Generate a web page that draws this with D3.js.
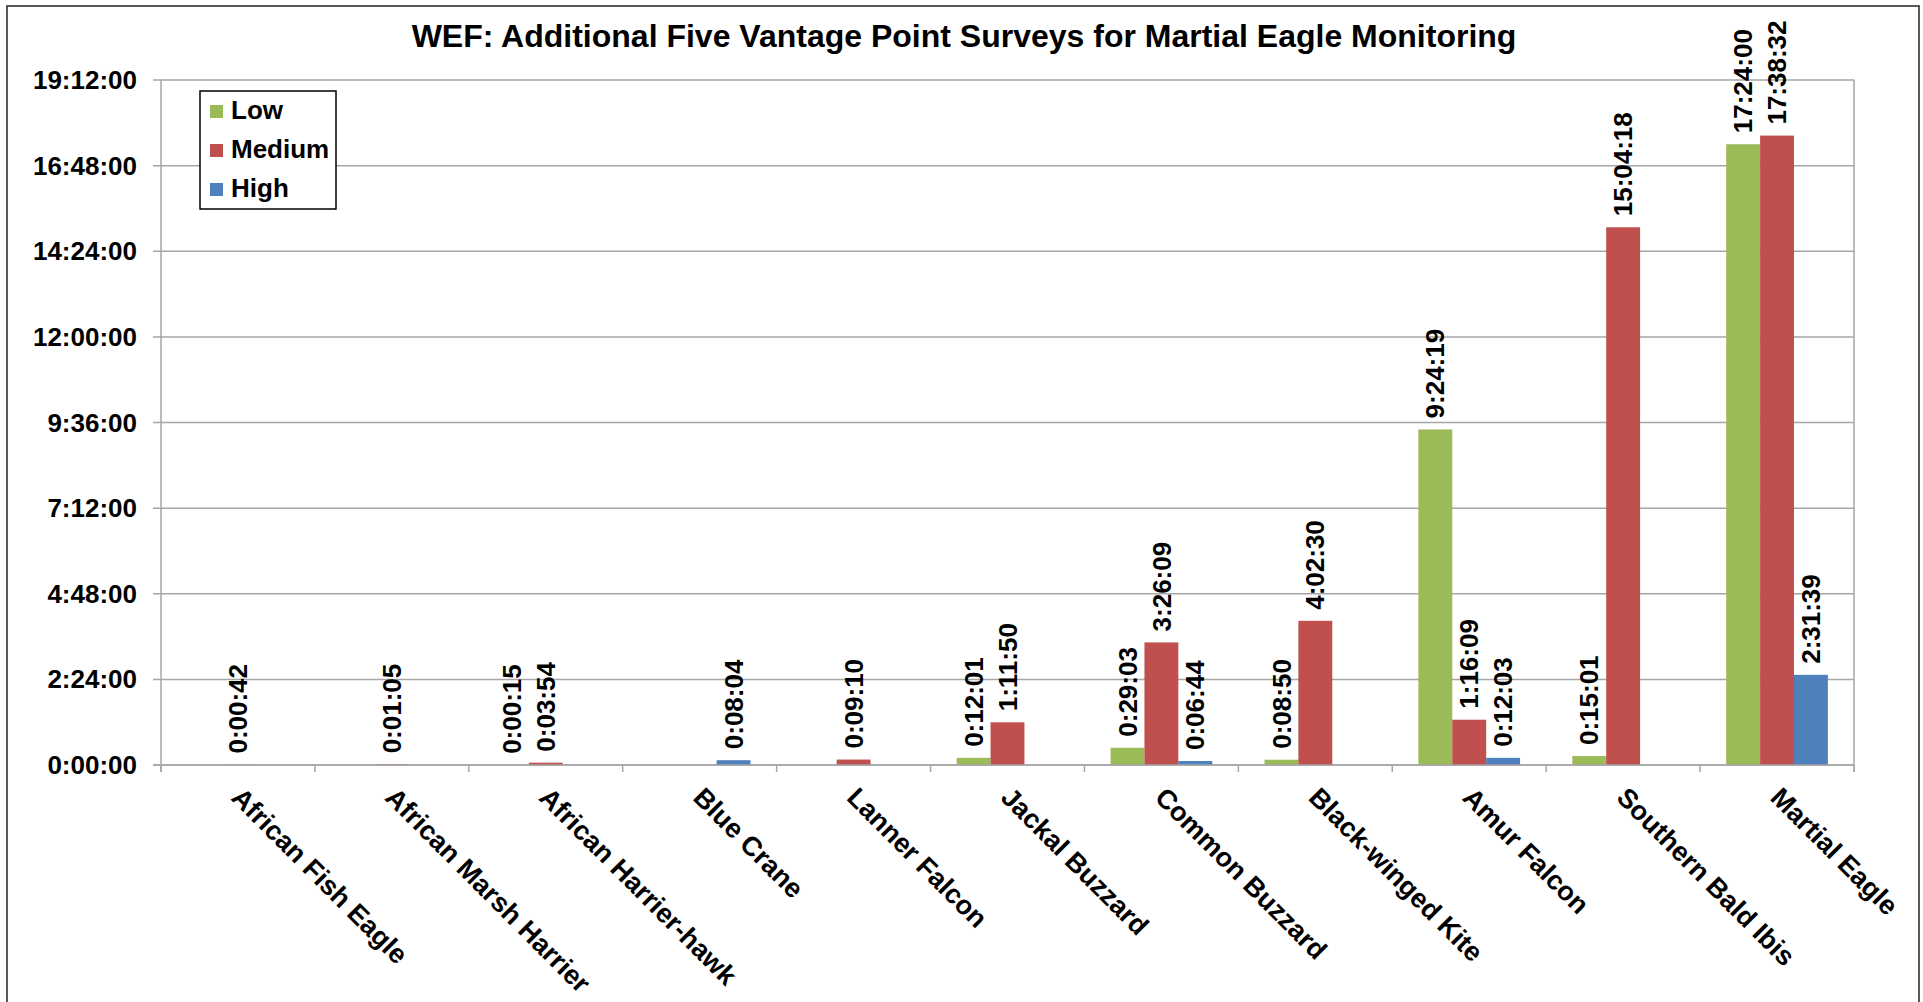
<!DOCTYPE html>
<html>
<head>
<meta charset="utf-8">
<script src="https://cdn.jsdelivr.net/npm/d3@7"></script>
<style>
  html, body { margin: 0; padding: 0; background: #fff; }
  svg { display: block; }
  text { font-family: "Liberation Sans", Arial, sans-serif; font-weight: bold; fill: #000; }
</style>
</head>
<body>
<svg id="chart" width="1923" height="1002"></svg>
<script>
const title = "WEF: Additional Five Vantage Point Surveys for Martial Eagle Monitoring";
const categories = ["African Fish Eagle", "African Marsh Harrier", "African Harrier-hawk", "Blue Crane",
  "Lanner Falcon", "Jackal Buzzard", "Common Buzzard", "Black-winged Kite", "Amur Falcon",
  "Southern Bald Ibis", "Martial Eagle"];
const seriesNames = ["Low", "Medium", "High"];
const lowValues    = [null, null, "0:00:15", null, null, "0:12:01", "0:29:03", "0:08:50", "9:24:19", "0:15:01", "17:24:00"];
const mediumValues = ["0:00:42", "0:01:05", "0:03:54", null, "0:09:10", "1:11:50", "3:26:09", "4:02:30", "1:16:09", "15:04:18", "17:38:32"];
const highValues   = [null, null, null, "0:08:04", null, null, "0:06:44", null, "0:12:03", null, "2:31:39"];
const seriesColors = ["#9BBB59", "#C0504D", "#4F81BD"];
const yTickLabels = ["0:00:00", "2:24:00", "4:48:00", "7:12:00", "9:36:00", "12:00:00", "14:24:00", "16:48:00", "19:12:00"];

const toSec = s => { const p = s.split(":").map(Number); return p[0] * 3600 + p[1] * 60 + p[2]; };
const seriesValues = [lowValues, mediumValues, highValues];
const yTicks = yTickLabels.map(toSec);

const svg = d3.select("#chart");
const m = { left: 161, right: 1854, top: 80, bottom: 765 };

// outer frame
svg.append("rect").attr("x", 7).attr("y", 6).attr("width", 1912).attr("height", 1010)
  .attr("fill", "none").attr("stroke", "#222").attr("stroke-width", 1.5);

// title
svg.append("text").attr("x", 964).attr("y", 47).attr("text-anchor", "middle")
  .style("font-size", "32px").text(title);

const x0 = d3.scaleBand().domain(categories).range([m.left, m.right]).paddingInner(0).paddingOuter(0);
const x1 = d3.scaleBand().domain(seriesNames).range([0, x0.bandwidth()]).paddingInner(0).paddingOuter(0.77);
const y = d3.scaleLinear().domain([0, yTicks[yTicks.length - 1]]).range([m.bottom, m.top]);

// gridlines
svg.append("g").selectAll("line").data(yTicks).join("line")
  .attr("x1", m.left - 8).attr("x2", m.right)
  .attr("y1", d => y(d)).attr("y2", d => y(d))
  .attr("stroke", "#a6a6a6").attr("stroke-width", 1.5);

// right border of plot
svg.append("line").attr("x1", m.right).attr("x2", m.right).attr("y1", m.top).attr("y2", m.bottom + 7)
  .attr("stroke", "#a6a6a6").attr("stroke-width", 1.5);
// y axis line
svg.append("line").attr("x1", m.left).attr("x2", m.left).attr("y1", m.top).attr("y2", m.bottom + 7)
  .attr("stroke", "#a6a6a6").attr("stroke-width", 1.5);
// x category ticks
const boundaries = categories.map(c => x0(c)).concat([m.right]);
svg.append("g").selectAll("line").data(boundaries).join("line")
  .attr("x1", d => d).attr("x2", d => d).attr("y1", m.bottom).attr("y2", m.bottom + 7)
  .attr("stroke", "#a6a6a6").attr("stroke-width", 1.5);

// y tick labels
svg.append("g").selectAll("text").data(yTicks).join("text")
  .attr("x", 137).attr("y", d => y(d)).attr("dy", "0.35em").attr("text-anchor", "end")
  .style("font-size", "26px").text((d, i) => yTickLabels[i]);

// bars
const rows = [];
categories.forEach((c, ci) => seriesNames.forEach((s, si) => {
  const v = seriesValues[si][ci];
  if (v !== null) rows.push({ c, s, si, label: v, val: toSec(v) });
}));
svg.append("g").selectAll("rect").data(rows).join("rect")
  .attr("x", d => x0(d.c) + x1(d.s)).attr("width", x1.bandwidth())
  .attr("y", d => y(d.val)).attr("height", d => m.bottom - y(d.val))
  .attr("fill", d => seriesColors[d.si]);

// redraw zero line over bars
svg.append("line").attr("x1", m.left - 8).attr("x2", m.right).attr("y1", m.bottom).attr("y2", m.bottom)
  .attr("stroke", "#a6a6a6").attr("stroke-width", 1.5);

// data labels
svg.append("g").selectAll("text").data(rows).join("text")
  .attr("transform", d => `translate(${x0(d.c) + x1(d.s) + x1.bandwidth() / 2},${y(d.val) - 11}) rotate(-90)`)
  .attr("dy", "0.35em").attr("text-anchor", "start")
  .style("font-size", "26px").text(d => d.label);

// x category labels
svg.append("g").selectAll("text").data(categories).join("text")
  .attr("transform", c => `translate(${x0(c) + x0.bandwidth() / 2 - 8},${m.bottom + 34}) rotate(45)`)
  .attr("text-anchor", "start")
  .style("font-size", "27px").text(c => c);

// legend
const lg = svg.append("g");
lg.append("rect").attr("x", 200).attr("y", 91).attr("width", 136).attr("height", 118)
  .attr("fill", "#fff").attr("stroke", "#000").attr("stroke-width", 1.5);
const li = lg.selectAll("g").data(seriesNames).join("g")
  .attr("transform", (d, i) => `translate(210,${119 + i * 39})`);
li.append("rect").attr("x", 0).attr("y", -14).attr("width", 13).attr("height", 13)
  .attr("fill", (d, i) => seriesColors[i]);
li.append("text").attr("x", 21).attr("y", 0).style("font-size", "26px").text(d => d);
</script>
</body>
</html>
